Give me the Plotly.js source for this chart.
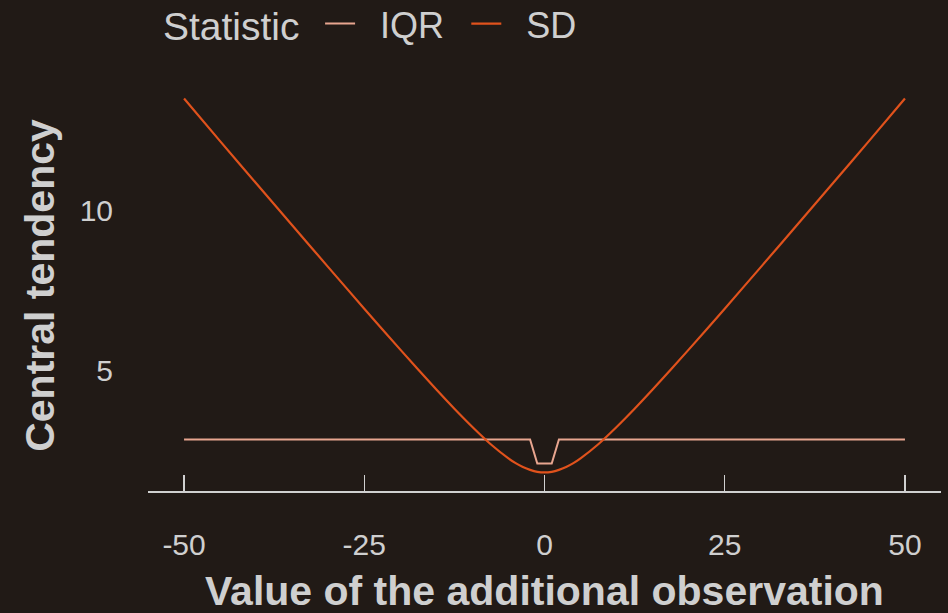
<!DOCTYPE html>
<html>
<head>
<meta charset="utf-8">
<script src="https://cdn.plot.ly/plotly-3.0.1.min.js"></script>
<style>
html,body{margin:0;padding:0;background:#211a16;}
#chart{width:948px;height:613px;}
</style>
</head>
<body>
<div id="chart"></div>
<script>
// Value of the additional observation (x) and resulting statistics
const sdX = [-50, -45, -40, -35, -30, -25, -20, -15, -12.5, -10, -7.5, -5, -4, -3, -2, -1, 0, 1, 2, 3, 4, 5, 7.5, 10, 12.5, 15, 20, 25, 30, 35, 40, 45, 50];
const sdY = [13.49, 12.16, 10.84, 9.53, 8.22, 6.92, 5.64, 4.39, 3.79, 3.22, 2.69, 2.24, 2.09, 1.97, 1.88, 1.82, 1.80, 1.82, 1.88, 1.97, 2.09, 2.24, 2.69, 3.22, 3.79, 4.39, 5.64, 6.92, 8.22, 9.53, 10.84, 12.16, 13.49];
const iqrX = [-50, -2, -1, 1, 2, 50];
const iqrY = [2.83, 2.83, 2.08, 2.08, 2.83, 2.83];
const xTicks = [-50, -25, 0, 25, 50];
const yTicks = [5, 10];
const seriesNames = ['IQR', 'SD'];
const seriesColors = ['#e8a58f', '#e0521c'];
const legendTitle = 'Statistic';
const xTitle = 'Value of the additional observation';
const yTitle = 'Central tendency';

const textColor = '#cfcfcf';
const font = 'Liberation Sans, Arial, sans-serif';
const nb = '\u00a0';

const traces = [
  {x: iqrX, y: iqrY, mode: 'lines', name: nb + nb + seriesNames[0] + nb + '\u2009',
   line: {color: seriesColors[0], width: 2}},
  {x: sdX, y: sdY, mode: 'lines', name: nb + nb + seriesNames[1],
   line: {color: seriesColors[1], width: 2.2, shape: 'spline', smoothing: 0.6}}
];

const layout = {
  width: 948, height: 613,
  paper_bgcolor: '#211a16', plot_bgcolor: '#211a16',
  margin: {l: 148, r: 7, t: 80, b: 122, autoexpand: false},
  font: {family: font, color: textColor},
  showlegend: true,
  legend: {
    orientation: 'h', x: 0.217, xanchor: 'left', y: 1.21, yanchor: 'top',
    bgcolor: 'rgba(0,0,0,0)',
    font: {size: 36, color: textColor, family: font},
    itemwidth: 30, tracegroupgap: 0
  },
  annotations: [
    {text: legendTitle, xref: 'paper', yref: 'paper', x: 0.0164, y: 1.130,
     xanchor: 'left', yanchor: 'middle', showarrow: false,
     font: {size: 39, color: textColor, family: font}},
    {text: xTitle, xref: 'paper', yref: 'paper', x: 0.5, y: 0, yshift: -100,
     xanchor: 'center', yanchor: 'middle', showarrow: false,
     font: {size: 41, color: textColor, family: font, weight: 'bold'}}
  ],
  xaxis: {
    range: [-55, 55], tickvals: xTicks, ticktext: xTicks.map(String),
    showgrid: false, zeroline: false, automargin: false,
    showline: true, linecolor: '#d0d0d0', linewidth: 1.5,
    ticks: 'inside', ticklen: 16, tickwidth: 1.5, tickcolor: '#d0d0d0',
    tickfont: {size: 30, color: textColor},
    ticklabelstandoff: 26
  },
  yaxis: {
    range: [1.22, 14.07], tickvals: yTicks, ticktext: yTicks.map(String),
    showgrid: false, zeroline: false, showline: false, automargin: false,
    ticks: '', tickfont: {size: 30, color: textColor},
    ticklabelstandoff: 34,
    title: {text: yTitle, standoff: 12,
            font: {size: 41, color: textColor, family: font, weight: 'bold'}}
  }
};

Plotly.newPlot('chart', traces, layout, {displayModeBar: false, staticPlot: true});
</script>
</body>
</html>
